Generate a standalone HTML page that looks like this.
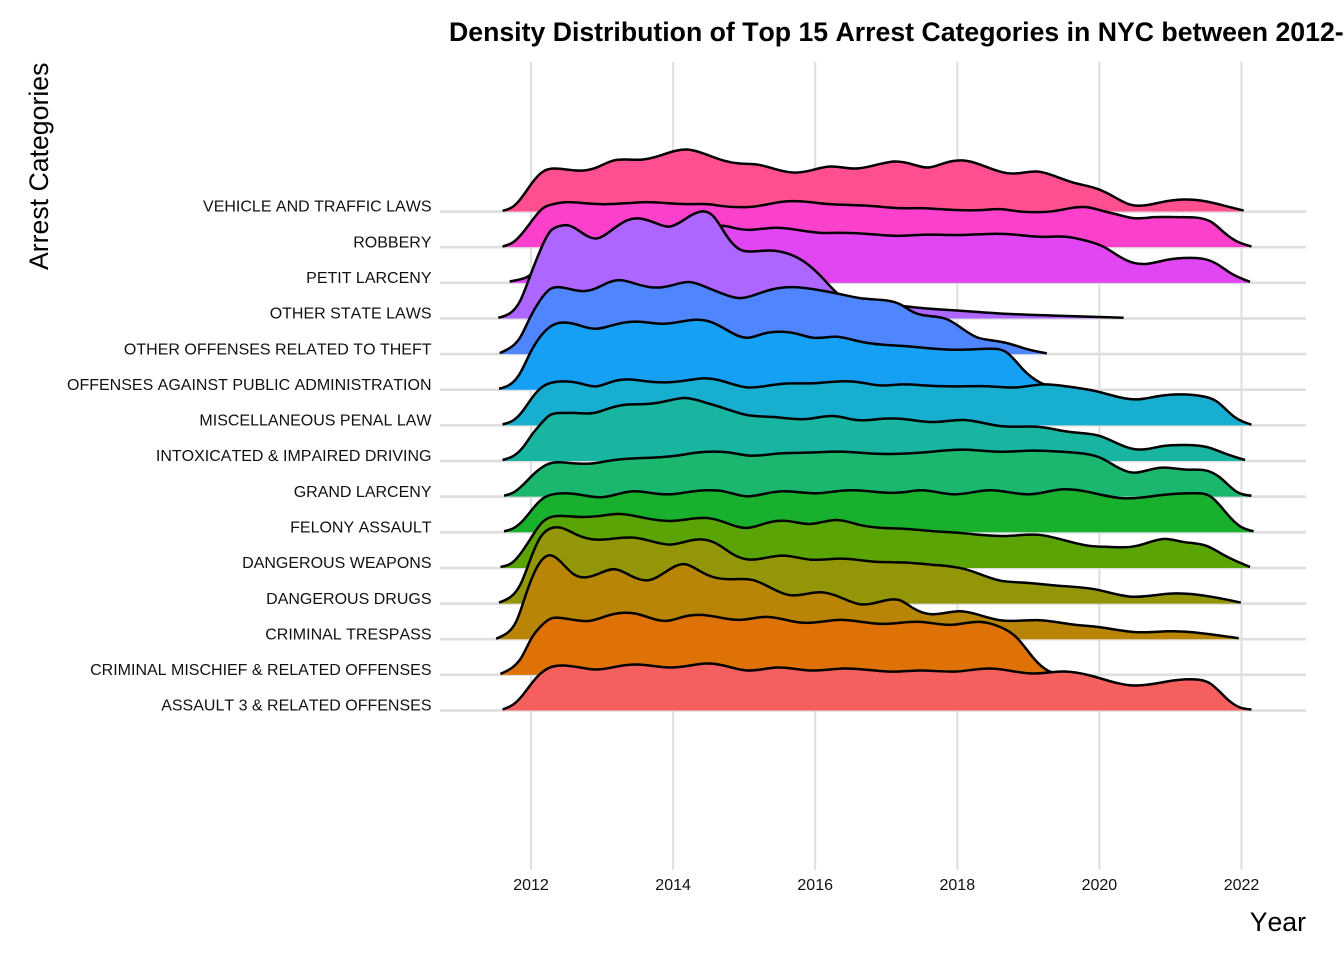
<!DOCTYPE html>
<html lang="en">
<head>
<meta charset="utf-8">
<title>Density Distribution of Top 15 Arrest Categories</title>
<style>
html,body{margin:0;padding:0;background:#fff;width:1344px;height:960px;overflow:hidden}
svg{display:block;font-family:"Liberation Sans",Arial,sans-serif}
text{font-kerning:none}
</style>
</head>
<body>
<svg id="chart" xmlns="http://www.w3.org/2000/svg" width="1344" height="960" viewBox="0 0 1344 960">
  <rect width="1344" height="960" fill="#ffffff"/>
  <g id="grid"></g>
  <g id="ridges"></g>
  <g id="ylabels"></g>
  <g id="xlabels"></g>
  <text x="449" y="41" font-size="26.67px" font-weight="700" fill="#000">Density Distribution of Top 15 Arrest Categories in NYC between 2012-2022</text>
  <text transform="translate(48,270) rotate(-90)" font-size="26.67px" fill="#000">Arrest Categories</text>
  <text x="1306" y="931" text-anchor="end" font-size="26.67px" fill="#000">Year</text>
</svg>
<script>
const categories = ["ASSAULT 3 & RELATED OFFENSES","CRIMINAL MISCHIEF & RELATED OFFENSES","CRIMINAL TRESPASS","DANGEROUS DRUGS","DANGEROUS WEAPONS","FELONY ASSAULT","GRAND LARCENY","INTOXICATED & IMPAIRED DRIVING","MISCELLANEOUS PENAL LAW","OFFENSES AGAINST PUBLIC ADMINISTRATION","OTHER OFFENSES RELATED TO THEFT","OTHER STATE LAWS","PETIT LARCENY","ROBBERY","VEHICLE AND TRAFFIC LAWS"];
const fillColors = ["#F5605F","#DE7206","#B98506","#939606","#5AA505","#18B02C","#1BB76F","#18B5A0","#18AECF","#15A0F3","#4F86FF","#AD66FF","#E046F2","#FB41CB","#FF4F90"];
const xTicks = [2012,2014,2016,2018,2020,2022];

const assaultYears = [2011.60,2011.75,2011.89,2012.03,2012.17,2012.31,2012.45,2012.69,2012.92,2013.21,2013.49,2013.96,2014.24,2014.47,2014.71,2015.04,2015.46,2015.93,2016.40,2017.01,2017.19,2017.48,2017.99,2018.46,2019.07,2019.49,2019.92,2020.48,2020.95,2021.37,2021.56,2021.79,2021.98,2022.14];
const assaultDensity = [1,6,16,29,39,44,45,43,41,44,46,43,45,47,45,40,43,40,42,39,39,40,39,42,37,39,34,25,29,31,27,12,3,1];

const mischiefYears = [2011.57,2011.73,2011.87,2012.01,2012.13,2012.27,2012.41,2012.60,2012.83,2013.07,2013.28,2013.49,2013.91,2014.14,2014.38,2014.61,2014.94,2015.32,2015.65,2015.88,2016.35,2016.91,2017.19,2017.48,2017.90,2018.32,2018.60,2018.84,2019.07,2019.28,2019.45];
const mischiefDensity = [1,7,18,37,48,56,57,55,54,59,62,61,54,58,60,58,55,58,54,52,55,51,52,53,50,53,48,37,17,4,0.7];

const trespassYears = [2011.51,2011.66,2011.80,2011.92,2012.03,2012.15,2012.27,2012.41,2012.60,2012.78,2012.97,2013.18,2013.39,2013.65,2013.91,2014.17,2014.38,2014.57,2014.80,2015.13,2015.36,2015.65,2016.07,2016.35,2016.63,2017.00,2017.19,2017.38,2017.64,2018.04,2018.27,2018.60,2019.16,2019.60,2020.01,2020.53,2020.99,2021.56,2021.96];
const trespassDensity = [0.5,6,19,43,64,79,84,78,65,62,66,70,64,59,68,75,68,62,60,59,52,44,47,42,35,39,39,31,25,28,25,19,19,15,12,7,8,5,1];

const drugsYears = [2011.55,2011.70,2011.85,2011.99,2012.13,2012.27,2012.41,2012.64,2012.92,2013.16,2013.44,2013.77,2013.96,2014.24,2014.43,2014.61,2014.85,2015.08,2015.32,2015.55,2015.93,2016.35,2016.82,2017.29,2017.62,2018.13,2018.60,2018.93,2019.40,2019.96,2020.43,2020.99,2021.56,2021.99];
const drugsDensity = [1,6,19,44,66,75,76,69,64,65,66,61,59,63,64,60,49,44,46,48,44,45,42,41,39,34,23,21,18,14,7,10,7,1];

const weaponsYears = [2011.57,2011.73,2011.87,2012.01,2012.15,2012.29,2012.43,2012.69,2012.97,2013.25,2013.53,2013.96,2014.24,2014.47,2014.71,2015.04,2015.32,2015.60,2015.93,2016.30,2016.63,2016.96,2017.29,2017.62,2018.04,2018.70,2019.16,2019.49,2019.87,2020.15,2020.43,2020.55,2020.67,2020.90,2021.18,2021.51,2021.75,2022.12];
const weaponsDensity = [1,5,16,31,45,51,52,51,52,54,51,47,49,50,46,40,45,47,44,48,43,40,39,37,35,32,33,28,22,21,21,22.5,25,29,26,22,13,1];

const felonyYears = [2011.62,2011.75,2011.89,2012.03,2012.17,2012.31,2012.50,2012.74,2012.97,2013.21,2013.44,2013.72,2013.96,2014.19,2014.47,2014.71,2015.04,2015.32,2015.55,2016.02,2016.30,2016.54,2016.91,2017.24,2017.48,2017.94,2018.46,2019.02,2019.49,2019.87,2020.34,2020.85,2021.37,2021.56,2021.79,2021.98,2022.17];
const felonyDensity = [1,4,12,24,34,38,39,37,35,38,41,39,38,40,42,41,36,39,41,39,41,42,40,40,42,38,42,38,43,40,34,37,39,36,19,6,1];

const larcenyYears = [2011.62,2011.75,2011.89,2012.03,2012.17,2012.31,2012.50,2012.83,2013.11,2013.39,2013.72,2014.05,2014.33,2014.57,2014.80,2015.08,2015.46,2015.88,2016.35,2016.82,2017.24,2017.48,2017.80,2018.09,2018.55,2019.07,2019.45,2019.78,2020.01,2020.24,2020.48,2020.71,2020.90,2021.23,2021.51,2021.70,2021.93,2022.14];
const larcenyDensity = [1,4,12,22,30,34,34,33,36,38,39,41,44,45,44,41,43,44,45,43,43,44,46,47,45,46,45,43,39,30,24,27,29,27,26,19,5,1];

const intoxicatedYears = [2011.60,2011.75,2011.89,2012.03,2012.10,2012.27,2012.41,2012.64,2012.88,2013.07,2013.30,2013.63,2013.91,2014.17,2014.43,2014.71,2015.04,2015.41,2015.88,2016.26,2016.58,2016.91,2017.24,2017.66,2018.09,2018.60,2019.16,2019.59,2020.01,2020.24,2020.48,2020.67,2020.90,2021.23,2021.51,2021.75,2022.05];
const intoxicatedDensity = [1,5,14,28,34,46,48,48,48,52,56,57,60,63,59,53,46,44,42,45,41,42,42,39,41,35,34,29,25,18,12,12,15,16,14,8,1];

const penalYears = [2011.60,2011.75,2011.89,2012.03,2012.17,2012.31,2012.45,2012.69,2012.92,2013.11,2013.35,2013.63,2013.91,2014.19,2014.43,2014.66,2015.04,2015.36,2015.65,2015.93,2016.35,2016.63,2016.91,2017.24,2017.52,2017.99,2018.46,2018.84,2019.21,2019.54,2019.96,2020.29,2020.53,2020.81,2021.14,2021.46,2021.65,2021.89,2022.14];
const penalDensity = [1,5,15,29,39,43,44,42,39,43,46,44,43,45,47,45,38,40,42,42,44,43,40,41,40,39,39,38,41,39,34,28,26,29,31,29,24,9,0.7];

const adminYears = [2011.55,2011.70,2011.85,2011.99,2012.13,2012.27,2012.41,2012.60,2012.92,2013.07,2013.30,2013.53,2013.86,2014.10,2014.33,2014.52,2014.75,2015.04,2015.27,2015.50,2015.74,2015.97,2016.30,2016.58,2016.96,2017.19,2017.52,2017.99,2018.46,2018.70,2018.93,2019.17,2019.31,2019.54];
const adminDensity = [1,5,17,37,53,63,67,66,61,63,67,68,66,68,70,68,60,52,56,58,56,52,53,49,45,44,42,40,41,37,20,7,3,0.7];

const theftYears = [2011.56,2011.70,2011.85,2011.99,2012.13,2012.27,2012.38,2012.55,2012.74,2012.92,2013.07,2013.25,2013.44,2013.67,2013.86,2014.05,2014.24,2014.43,2014.71,2014.94,2015.18,2015.41,2015.69,2015.97,2016.35,2016.63,2016.96,2017.19,2017.38,2017.62,2017.85,2018.04,2018.27,2018.46,2018.70,2018.98,2019.26];
const theftDensity = [1,6,17,37,54,65,67,65,63,66,71,74,71,67,67,70,72,68,60,56,60,65,67,65,60,56,54,50,42,38,35,27,17,14,11,5,0.7];

const stateLawsYears = [2011.54,2011.70,2011.85,2011.99,2012.13,2012.27,2012.38,2012.53,2012.69,2012.92,2013.11,2013.35,2013.53,2013.77,2013.96,2014.14,2014.40,2014.57,2014.75,2014.94,2015.08,2015.36,2015.65,2015.88,2016.11,2016.35,2016.72,2017.29,2017.99,2018.60,2019.31,2020.34];
const stateLawsDensity = [0.7,5,18,43,68,87,92,93,87,80,87,98,100,95,92,98,107,102,83,69,67,68,64,55,40,23,17,12,8,5,3,0.7];

const petitYears = [2011.70,2011.85,2011.99,2012.05,2012.15,2012.40,2013.00,2014.00,2014.40,2014.71,2014.85,2015.08,2015.41,2015.74,2016.07,2016.40,2016.72,2017.19,2017.48,2017.80,2018.13,2018.51,2018.84,2019.21,2019.54,2019.82,2020.06,2020.29,2020.48,2020.67,2020.95,2021.28,2021.46,2021.65,2021.84,2022.12];
const petitDensity = [1.3,3.5,8,13,25,40,40,42,50,57,55,53,55,53,50,50,49,47,48,48,48,49,48,46,46,42,36,26,20,19,23,25,24,19,10,1];

const robberyYears = [2011.60,2011.75,2011.89,2012.03,2012.17,2012.31,2012.50,2012.74,2013.07,2013.35,2013.63,2013.91,2014.19,2014.47,2014.71,2014.94,2015.18,2015.41,2015.69,2015.93,2016.21,2016.54,2016.82,2017.19,2017.48,2017.76,2018.04,2018.32,2018.60,2018.84,2019.12,2019.35,2019.59,2019.82,2020.06,2020.29,2020.48,2020.76,2021.09,2021.42,2021.58,2021.75,2021.93,2022.14];
const robberyDensity = [0.7,5,15,28,39,43,45,44,43,44,45,44,43,43,41,40,41,44,46,45,43,42,41,39,39,38,37,37,38,36,35,36,39,40,36,32,29,30,30,29,25,15,6,0.7];

const vehicleYears = [2011.60,2011.75,2011.89,2012.03,2012.17,2012.31,2012.50,2012.74,2012.92,2013.16,2013.35,2013.58,2013.86,2014.19,2014.43,2014.71,2014.94,2015.18,2015.41,2015.69,2015.93,2016.21,2016.54,2016.82,2017.12,2017.38,2017.59,2017.80,2018.09,2018.32,2018.60,2018.79,2019.12,2019.35,2019.63,2019.96,2020.20,2020.43,2020.62,2020.85,2021.18,2021.51,2021.75,2022.03];
const vehicleDensity = [0.7,5,16,30,40,43,42,41,44,51,52,52,57,62,58,51,48,47,43,39,41,45,43,46,50,47,44,48,51,47,40,38,40,36,29,23,15,7,6,9,12,10,6,1];

const seriesYears = [assaultYears,mischiefYears,trespassYears,drugsYears,weaponsYears,felonyYears,larcenyYears,intoxicatedYears,penalYears,adminYears,theftYears,stateLawsYears,petitYears,robberyYears,vehicleYears];
const seriesDensity = [assaultDensity,mischiefDensity,trespassDensity,drugsDensity,weaponsDensity,felonyDensity,larcenyDensity,intoxicatedDensity,penalDensity,adminDensity,theftDensity,stateLawsDensity,petitDensity,robberyDensity,vehicleDensity];

const SVG_NS = "http://www.w3.org/2000/svg";
function xScale(year){ return 531 + (year - 2012) * 71.05; }
function baseline(index){ return 710.5 - index * 35.64; }
function yScale(index, density){ return baseline(index) - density; }
function slug(s){ return s.toLowerCase().replace(/&/g,"and").replace(/[^a-z0-9]+/g,"-"); }

/* natural cubic spline through the knots, written as cubic Bezier segments */
function smoothPath(pts){
  const n = pts.length;
  const h = [], cp = new Array(n).fill(0), dp = new Array(n).fill(0), m = new Array(n).fill(0);
  for(let i = 0; i < n - 1; i++){ h.push(pts[i + 1][0] - pts[i][0]); }
  for(let i = 1; i < n - 1; i++){
    const a = h[i - 1], b = 2 * (h[i - 1] + h[i]), c = h[i];
    const r = 6 * ((pts[i + 1][1] - pts[i][1]) / h[i] - (pts[i][1] - pts[i - 1][1]) / h[i - 1]);
    const den = b - a * cp[i - 1];
    cp[i] = c / den;
    dp[i] = (r - a * dp[i - 1]) / den;
  }
  for(let i = n - 2; i >= 1; i--){ m[i] = dp[i] - cp[i] * m[i + 1]; }
  let d = "";
  for(let i = 0; i < n - 1; i++){
    const s = (pts[i + 1][1] - pts[i][1]) / h[i];
    const t0 = s - h[i] * (2 * m[i] + m[i + 1]) / 6;
    const t1 = s + h[i] * (m[i] + 2 * m[i + 1]) / 6;
    const c1x = pts[i][0] + h[i] / 3, c1y = pts[i][1] + t0 * h[i] / 3;
    const c2x = pts[i + 1][0] - h[i] / 3, c2y = pts[i + 1][1] - t1 * h[i] / 3;
    d += "C" + c1x.toFixed(2) + " " + c1y.toFixed(2) + " " + c2x.toFixed(2) + " " + c2y.toFixed(2) + " " + pts[i + 1][0].toFixed(2) + " " + pts[i + 1][1].toFixed(2);
  }
  return d;
}

const gridGroup = document.getElementById("grid");
xTicks.forEach(function(t){
  const l = document.createElementNS(SVG_NS, "line");
  l.setAttribute("x1", xScale(t));
  l.setAttribute("x2", xScale(t));
  l.setAttribute("y1", 62);
  l.setAttribute("y2", 870);
  l.setAttribute("stroke", "#dedede");
  l.setAttribute("stroke-width", 2);
  
  
  gridGroup.appendChild(l);
});
categories.forEach(function(c, i){
  const l = document.createElementNS(SVG_NS, "line");
  l.setAttribute("x1", 440);
  l.setAttribute("x2", 1306);
  l.setAttribute("y1", baseline(i));
  l.setAttribute("y2", baseline(i));
  l.setAttribute("stroke", "#dedede");
  l.setAttribute("stroke-width", 2.6);
  
  
  gridGroup.appendChild(l);
});

const ridgeGroup = document.getElementById("ridges");
for(let i = categories.length - 1; i >= 0; i--){
  const years = seriesYears[i], dens = seriesDensity[i];
  const pts = years.map(function(y, k){ return [xScale(y), yScale(i, dens[k])]; });
  const first = pts[0], last = pts[pts.length - 1];
  const curve = smoothPath(pts);
  const g = document.createElementNS(SVG_NS, "g");
  
  
  const area = document.createElementNS(SVG_NS, "path");
  area.setAttribute("d", "M" + first[0].toFixed(2) + " " + baseline(i) + "L" + first[0].toFixed(2) + " " + first[1].toFixed(2) + curve + "L" + last[0].toFixed(2) + " " + baseline(i) + "Z");
  area.setAttribute("fill", fillColors[i]);
  
  
  g.appendChild(area);
  const line = document.createElementNS(SVG_NS, "path");
  line.setAttribute("d", "M" + first[0].toFixed(2) + " " + first[1].toFixed(2) + curve);
  line.setAttribute("fill", "none");
  line.setAttribute("stroke", "#000");
  line.setAttribute("stroke-width", 2.5);
  line.setAttribute("stroke-linejoin", "round");
  
  
  g.appendChild(line);
  ridgeGroup.appendChild(g);
}

const yLabelGroup = document.getElementById("ylabels");
categories.forEach(function(c, i){
  const t = document.createElementNS(SVG_NS, "text");
  t.setAttribute("x", 431.5);
  t.setAttribute("y", baseline(i) + 0.2);
  t.setAttribute("text-anchor", "end");
  t.setAttribute("font-size", "16px");
  t.setAttribute("fill", "#111");
  t.textContent = c;
  
  
  yLabelGroup.appendChild(t);
});

const xLabelGroup = document.getElementById("xlabels");
xTicks.forEach(function(v){
  const t = document.createElementNS(SVG_NS, "text");
  t.setAttribute("x", xScale(v));
  t.setAttribute("y", 890);
  t.setAttribute("text-anchor", "middle");
  t.setAttribute("font-size", "16px");
  t.setAttribute("fill", "#111");
  t.textContent = String(v);
  
  
  xLabelGroup.appendChild(t);
});
</script>
</body>
</html>
